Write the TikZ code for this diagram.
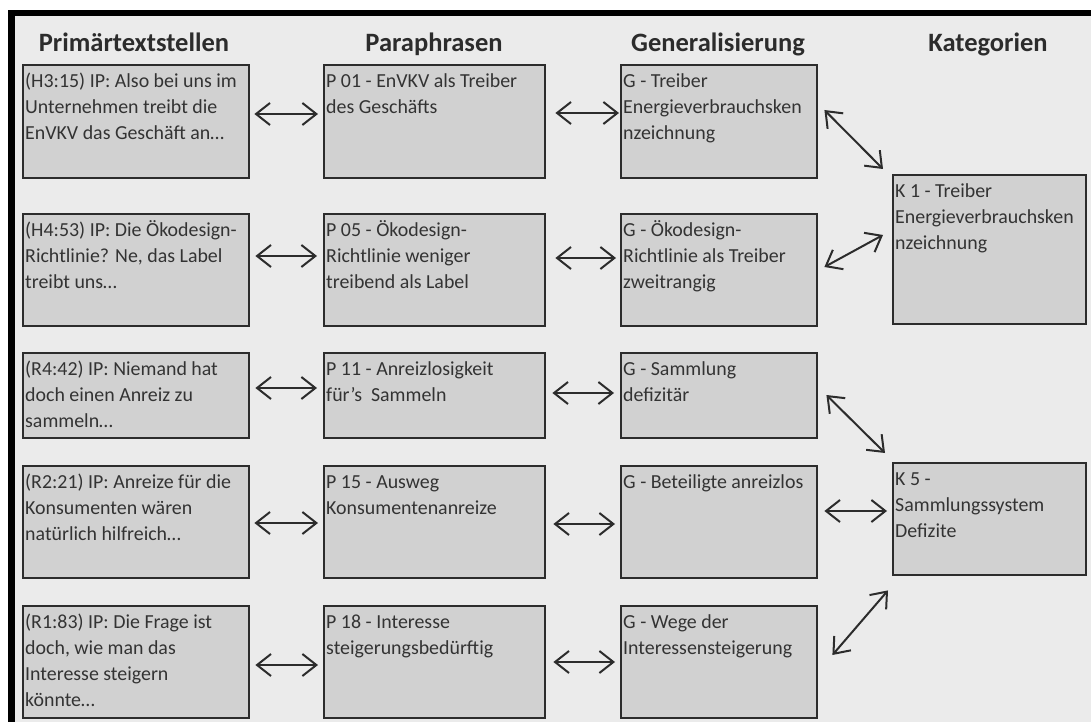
\documentclass[tikz,border=0pt]{standalone}
\usepackage{fontspec}
\setmainfont{Carlito}
\usetikzlibrary{arrows.meta,calc}
\definecolor{pagebg}{HTML}{EBEBEB}
\definecolor{cellfill}{HTML}{D1D1D1}
\definecolor{ink}{HTML}{2C2C2C}
\definecolor{textink}{HTML}{333333}
% top-aligned text block of a fixed size: width, height, lines
\newcommand\cellcontent[3]{\parbox[b][#2][t]{#1}{\raggedright\leftskip=2pt\rule{0pt}{22.5pt}#3}}

\begin{document}
\begin{tikzpicture}[x=1pt,y=-1pt,
  cell/.style={draw=ink, fill=cellfill, line width=2.4pt, inner sep=0pt,
    anchor=north west, text=textink, font=\fontsize{19.9}{26}\selectfont},
  head/.style={anchor=base, text=ink, font=\fontsize{26.5}{30}\selectfont\bfseries},
  link/.style={draw=ink, line width=2pt,
    {Straight Barb[length=14pt,width=22pt]}-{Straight Barb[length=14pt,width=22pt]}}]

\useasboundingbox (0,0) rectangle (1091,722);
% page and black frame
\fill[white] (0,0) rectangle (1091,722);
\fill[black] (8,10) rectangle (1091,722);
\fill[pagebg] (15,16) rectangle (1091,722);

% column headings
\node[head] (h1) at (134,52) {Primärtextstellen};
\node[head] (h2) at (434,52) {Paraphrasen};
\node[head] (h3) at (718,52) {Generalisierung};
\node[head] (h4) at (988,52) {Kategorien};

% primary text passages
\node[cell] (a1) at (22,64)  {\cellcontent{226pt}{113pt}{(H3:15) IP: Also bei uns im\\Unternehmen treibt die\\EnVKV das Geschäft an…}};
\node[cell] (a2) at (22,213) {\cellcontent{226pt}{112pt}{(H4:53) IP: Die Ökodesign-\\Richtlinie? Ne, das Label\\treibt uns…}};
\node[cell] (a3) at (22,352) {\cellcontent{226pt}{85pt}{(R4:42) IP: Niemand hat\\doch einen Anreiz zu\\sammeln…}};
\node[cell] (a4) at (22,465) {\cellcontent{226pt}{112pt}{(R2:21) IP: Anreize für die\\Konsumenten wären\\natürlich hilfreich…}};
\node[cell] (a5) at (22,605) {\cellcontent{226pt}{112pt}{(R1:83) IP: Die Frage ist\\doch, wie man das\\Interesse steigern\\könnte…}};

% paraphrases
\node[cell] (p1) at (323,64)  {\cellcontent{221pt}{113pt}{P 01 - EnVKV als Treiber\\des Geschäfts}};
\node[cell] (p2) at (323,213) {\cellcontent{221pt}{112pt}{P 05 - Ökodesign-\\Richtlinie weniger\\treibend als Label}};
\node[cell] (p3) at (323,352) {\cellcontent{221pt}{85pt}{P 11 - Anreizlosigkeit\\für’s\ \ Sammeln}};
\node[cell] (p4) at (323,465) {\cellcontent{221pt}{112pt}{P 15 - Ausweg\\Konsumentenanreize}};
\node[cell] (p5) at (323,605) {\cellcontent{221pt}{112pt}{P 18 - Interesse\\steigerungsbedürftig}};

% generalisations
\node[cell] (g1) at (620,64)  {\cellcontent{196pt}{113pt}{G - Treiber\\Energieverbrauchsken\\nzeichnung}};
\node[cell] (g2) at (620,213) {\cellcontent{196pt}{112pt}{G - Ökodesign-\\Richtlinie als Treiber\\zweitrangig}};
\node[cell] (g3) at (620,352) {\cellcontent{196pt}{85pt}{G - Sammlung\\defizitär}};
\node[cell] (g4) at (620,465) {\cellcontent{196pt}{112pt}{G - Beteiligte anreizlos}};
\node[cell] (g5) at (620,605) {\cellcontent{196pt}{112pt}{G - Wege der\\Interessensteigerung}};

% categories
\node[cell] (k1) at (892,174) {\cellcontent{193pt}{149pt}{K 1 - Treiber\\Energieverbrauchsken\\nzeichnung}};
\node[cell] (k5) at (892,462) {\cellcontent{193pt}{112pt}{K 5 -\\Sammlungssystem\\Defizite}};

% passage <-> paraphrase
\draw[link] ($(a1.east |- 0,114)+(4,0)$) -- ($(p1.west |- 0,114)+(-5,0)$);
\draw[link] ($(a2.east |- 0,256)+(5,0)$) -- ($(p2.west |- 0,256)+(-6,0)$);
\draw[link] ($(a3.east |- 0,388)+(5,0)$) -- ($(p3.west |- 0,388)+(-6,0)$);
\draw[link] ($(a4.east |- 0,523)+(4,0)$) -- ($(p4.west |- 0,523)+(-5,0)$);
\draw[link] ($(a5.east |- 0,665)+(5,0)$) -- ($(p5.west |- 0,665)+(-5,0)$);

% paraphrase <-> generalisation
\draw[link] ($(p1.east |- 0,113)+(9,0)$) -- ($(g1.west |- 0,113)+(-1,0)$);
\draw[link] ($(p2.east |- 0,258)+(9,0)$) -- ($(g2.west |- 0,258)+(-4,0)$);
\draw[link] ($(p3.east |- 0,393)+(6,0)$) -- ($(g3.west |- 0,393)+(-6,0)$);
\draw[link] ($(p4.east |- 0,524)+(7,0)$) -- ($(g4.west |- 0,524)+(-5,0)$);
\draw[link] ($(p5.east |- 0,662)+(7,0)$) -- ($(g5.west |- 0,662)+(-5,0)$);

% generalisation <-> category
\draw[link] ($(g1.north east)+(6,46)$)  -- ($(k1.north west)+(-9,-5)$);
\draw[link] ($(g2.north east)+(6,54)$)  -- ($(k1.north west)+(-9,61)$);
\draw[link] ($(g3.north east)+(8,43)$)  -- ($(k5.north west)+(-7,-9)$);
\draw[link] ($(g4.north east)+(6,46)$)  -- ($(k5.north west)+(-5,49)$);
\draw[link] ($(g5.north east)+(14,50)$) -- ($(k5.south west)+(-4,14)$);
\end{tikzpicture}
\end{document}
